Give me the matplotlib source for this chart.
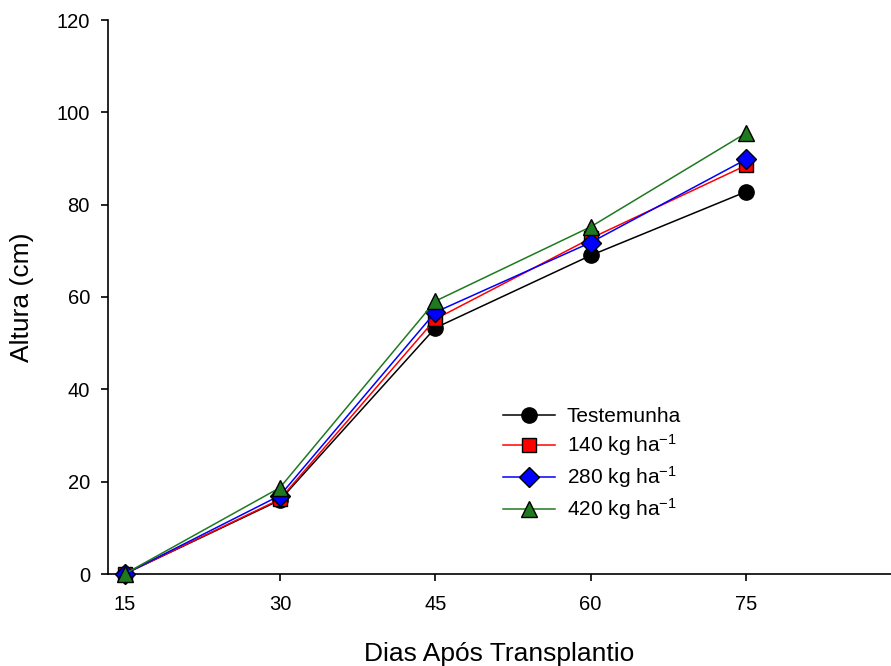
import matplotlib
matplotlib.use("Agg")
import matplotlib.pyplot as plt

plt.rcParams["font.family"] = ["Liberation Sans", "DejaVu Sans"]
plt.rcParams["mathtext.default"] = "regular"

# days after transplanting
dias = [15, 30, 45, 60, 75]

# plant height (cm) per treatment
testemunha = [0, 16.0, 53.3, 69.0, 82.8]
n140       = [0, 16.2, 55.2, 72.7, 88.5]
n280       = [0, 17.0, 56.7, 71.8, 89.8]
n420       = [0, 18.7, 59.1, 75.2, 95.5]

labels  = ["Testemunha", "140 kg ha$^{-1}$", "280 kg ha$^{-1}$", "420 kg ha$^{-1}$"]
series  = [testemunha, n140, n280, n420]
colors  = ["black", "#ff0000", "#0000ff", "#1f7a1f"]
markers = ["o", "s", "D", "^"]
msizes  = [11, 9.5, 10, 11]

x_ticks = [15, 30, 45, 60, 75]
y_ticks = [0, 20, 40, 60, 80, 100, 120]

fig = plt.figure(figsize=(8.91, 6.66), dpi=100)
ax = fig.add_axes([108 / 891, 1 - 574 / 666, 1 - 108 / 891, (574 - 20) / 666])

for y, lab, c, m, ms in zip(series, labels, colors, markers, msizes):
    ax.plot(dias, y, color=c, lw=1.1, marker=m, ms=ms,
            mfc=c, mec="black", mew=1.0, label=lab, clip_on=False, zorder=3)

ax.set_xlim(13.4, 89)
ax.set_ylim(0, 120)
ax.set_xticks(x_ticks)
ax.set_yticks(y_ticks)

for side in ("top", "right"):
    ax.spines[side].set_visible(False)
for side in ("left", "bottom"):
    ax.spines[side].set_linewidth(1.2)

ax.tick_params(axis="both", direction="out", length=5, width=1.2, labelsize=14.5)
ax.tick_params(axis="x", pad=10)
ax.tick_params(axis="y", pad=8)

ax.set_xlabel("Dias Após Transplantio", fontsize=19, labelpad=20)
ax.set_ylabel("Altura (cm)", fontsize=19, labelpad=16)

ax.legend(loc="upper left", bbox_to_anchor=((503 - 108) / 783, (574 - 407) / 554),
          frameon=False, fontsize=15, handlelength=2.5, handletextpad=0.55,
          labelspacing=0.3, borderaxespad=0, borderpad=0)

fig.savefig("out.png", dpi=100)
